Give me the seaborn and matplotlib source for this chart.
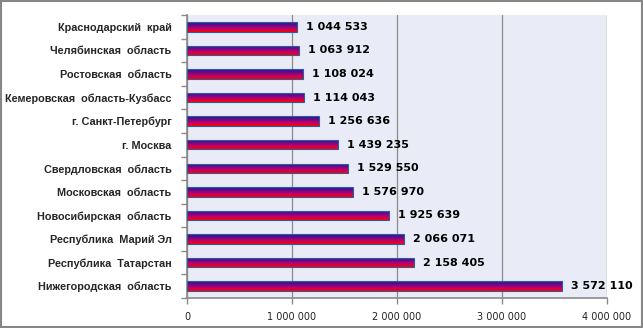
import matplotlib
matplotlib.use('Agg')
import matplotlib.pyplot as plt
import seaborn as sns
import numpy as np
import pandas as pd
from matplotlib.colors import LinearSegmentedColormap
from matplotlib.ticker import FixedLocator, FuncFormatter
from matplotlib.patches import Rectangle

regions = [
    "Краснодарский  край",
    "Челябинская  область",
    "Ростовская  область",
    "Кемеровская  область-Кузбасс",
    "г. Санкт-Петербург",
    "г. Москва",
    "Свердловская  область",
    "Московская  область",
    "Новосибирская  область",
    "Республика  Марий Эл",
    "Республика  Татарстан",
    "Нижегородская  область",
]
values = [1044533, 1063912, 1108024, 1114043, 1256636, 1439235,
          1529550, 1576970, 1925639, 2066071, 2158405, 3572110]
x_ticks = [0, 1000000, 2000000, 3000000, 4000000]

df = pd.DataFrame({"region": regions, "value": values})

sns.set_theme(style="white")
plt.rcParams['font.family'] = ['DejaVu Sans']

fig = plt.figure(figsize=(6.43, 3.28), dpi=100)
ax = fig.add_axes([187/643, 1-298/328, 420/643, 283/328])
ax.set_facecolor('#e9ecf6')

sns.barplot(data=df, y="region", x="value", orient="h", width=0.4, ax=ax,
            color="#800080", edgecolor="#2a5d9f", linewidth=0.8, zorder=3)

ax.set_xlim(0, 4000000)
ax.set_ylim(11.5, -0.5)

cmap = LinearSegmentedColormap.from_list("g", ["#1c1c8f", "#6a0a8a", "#c0006a", "#ff0000"])
grad = np.linspace(0, 1, 64).reshape(-1, 1)
for p in list(ax.patches):
    x0, y0, w, h = p.get_x(), p.get_y(), p.get_width(), p.get_height()
    im = ax.imshow(grad, cmap=cmap, extent=(x0, x0 + w, y0 + h, y0), origin='upper',
                   aspect='auto', zorder=3, interpolation='bilinear')
    im.set_clip_path(p)
    p.set_facecolor('none')
    p.set_zorder(4)

ax.set_xlim(0, 4000000)
ax.set_ylim(11.5, -0.5)

for i, v in enumerate(values):
    ax.text(v + 85000, i, f"{v:,}".replace(",", " "), va="center", ha="left",
            fontsize=8, fontweight="bold", color="#000000", zorder=5)

ax.xaxis.set_major_locator(FixedLocator(x_ticks))
ax.xaxis.set_major_formatter(FuncFormatter(lambda v, _: f"{int(v):,}".replace(",", " ")))
ax.grid(axis="x", color="#8a8a8a", linewidth=0.9, zorder=0)
ax.set_axisbelow(True)

ax.set_xlabel("")
ax.set_ylabel("")
for s in ["top", "right"]:
    ax.spines[s].set_visible(False)
for s in ["left", "bottom"]:
    ax.spines[s].set_color("#8a8a8a")
    ax.spines[s].set_linewidth(1.2)

ax.tick_params(axis="x", which="major", direction="out", length=4, width=1,
               color="#8a8a8a", labelsize=7, labelcolor="#222222", pad=6, bottom=True)
ax.tick_params(axis="y", which="major", length=0, labelsize=7.8, pad=11)
ax.yaxis.set_minor_locator(FixedLocator(np.arange(-0.5, 12, 1)))
ax.tick_params(axis="y", which="minor", direction="out", length=4, width=1,
               color="#8a8a8a", left=True)
for t in ax.get_yticklabels():
    t.set_fontweight("bold")
    t.set_family(["Liberation Sans", "DejaVu Sans"])

fig.patches.append(Rectangle((0.0015, 0.003), 0.997, 0.994, transform=fig.transFigure,
                             fill=False, edgecolor="#868686", linewidth=1.5))

fig.savefig("out.png", dpi=100)
